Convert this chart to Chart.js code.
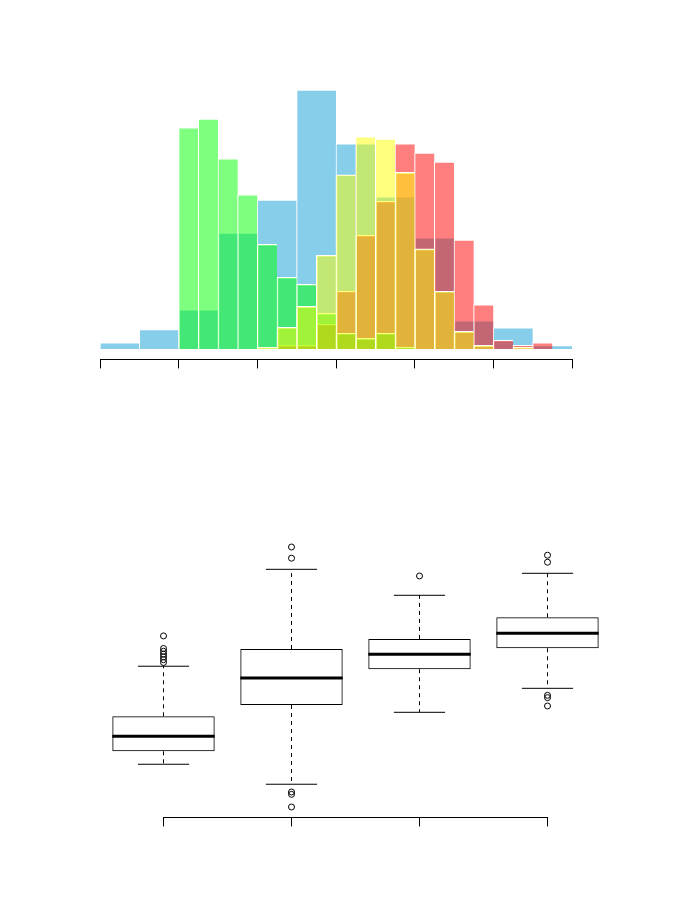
<!DOCTYPE html>
<html lang="en">
<head>
    <meta charset="UTF-8">
    <title>Histogrammes et boîtes à moustaches</title>
    <script src="https://cdn.jsdelivr.net/npm/chart.js"></script>
    <style>
        html, body {
            margin: 0;
            padding: 0;
            background-color: #ffffff;
        }
        .panel {
            position: absolute;
            left: 0;
            width: 673px;
            height: 458px;
        }
        #top { top: 0; }
        #bottom { top: 458px; }
    </style>
</head>
<body>
    <div class="panel" id="top"><canvas id="histChart" width="673" height="458"></canvas></div>
    <div class="panel" id="bottom"><canvas id="boxChart" width="673" height="458"></canvas></div>

    <script>
        // Bornes des classes (fines pour vert/jaune/rouge, larges pour bleu)
        const fineBreaks = [0, 1, 2, 3, 4, 5, 6, 7, 8, 9, 10, 11, 12, 13, 14, 15, 16, 17, 18, 19, 20, 21, 22, 23, 24];
        const coarseBreaks = [0, 2, 4, 6, 8, 10, 12, 14, 16, 18, 20, 22, 24];
        const histTicks = [0, 4, 8, 12, 16, 20, 24];

        // Hauteurs
        const blueHeights = [2.4, 7.5, 15.1, 44.8, 57.5, 100, 79.2, 58.8, 42.9, 10.9, 8.2, 1.3];
        const greenHeights = [0, 0, 0, 0, 85.4, 88.8, 73.4, 59.5, 40.4, 27.7, 25.0, 13.8,
                              6.1, 4.1, 6.1, 0.8, 0, 0, 0, 0, 0, 0, 0, 0];
        const yellowHeights = [0, 0, 0, 0, 0, 0, 0, 0, 0.7, 8.4, 16.5, 36.2,
                               67.3, 81.9, 81.1, 68.2, 38.7, 22.3, 6.8, 1.4, 0, 0.7, 0, 0];
        const redHeights = [0, 0, 0, 0, 0, 0, 0, 0, 0, 1.4, 1.4, 9.5,
                            22.3, 43.9, 57.0, 79.2, 75.7, 72.2, 42.1, 17.1, 3.4, 1.4, 2.4, 0];

        // Boîtes à moustaches (groupes : vert, bleu, jaune, rouge)
        const boxGroups = [1, 2, 3, 4];
        const whiskerLow = [4.15, 2.35, 8.83, 10.99];
        const boxQ1 = [5.32, 9.49, 12.71, 14.60];
        const boxMedian = [6.67, 11.92, 14.06, 15.95];
        const boxQ3 = [8.47, 14.53, 15.44, 17.39];
        const whiskerHigh = [12.98, 21.71, 19.37, 21.35];
        const outliers = [
            [15.71, 14.58, 14.33, 14.07, 13.82, 13.57, 13.32],
            [23.72, 22.71, 1.65, 1.44, 0.30],
            [21.11],
            [22.98, 22.35, 10.36, 10.15, 9.40]
        ];

        const boxWex = 0.8;
        const stapleHalf = boxWex / 4;

        function binData(breaks, heights) {
            return heights.map((h, i) => ({ x: (breaks[i] + breaks[i + 1]) / 2, y: h > 0 ? h : null }));
        }

        function histSet(label, breaks, heights, colour, order) {
            return {
                label: label,
                data: binData(breaks, heights),
                backgroundColor: colour,
                borderColor: '#ffffff',
                borderWidth: { top: 1, left: 1, right: 0, bottom: 0 },
                barThickness: 'flex',
                categoryPercentage: 1,
                barPercentage: 1,
                stack: 'hist',
                order: order
            };
        }

        const axisStyle = {
            grid: { display: true, drawOnChartArea: false, drawTicks: true, tickLength: 9, color: '#000000', lineWidth: 1, offset: false },
            border: { display: true, color: '#000000', width: 1 }
        };

        // Histogrammes superposés
        const hMax = Math.max(...blueHeights, ...greenHeights, ...yellowHeights, ...redHeights);
        const hPad = hMax * 0.04;

        new Chart(document.getElementById('histChart'), {
            type: 'bar',
            data: {
                datasets: [
                    histSet('jaune', fineBreaks, yellowHeights, 'rgba(255, 255, 0, 0.5)', 0),
                    histSet('vert', fineBreaks, greenHeights, 'rgba(0, 255, 0, 0.5)', 1),
                    histSet('rouge', fineBreaks, redHeights, 'rgba(255, 0, 0, 0.5)', 2),
                    histSet('bleu', coarseBreaks, blueHeights, '#87ceeb', 3)
                ]
            },
            options: {
                responsive: false,
                animation: false,
                layout: { padding: { left: 100, right: 101, top: 79.7, bottom: 89.6 } },
                plugins: { legend: { display: false }, tooltip: { enabled: false } },
                scales: {
                    x: Object.assign({
                        type: 'linear',
                        offset: false,
                        min: histTicks[0],
                        max: histTicks[histTicks.length - 1],
                        afterBuildTicks: (scale) => { scale.ticks = histTicks.map(v => ({ value: v })); },
                        ticks: { display: false }
                    }, axisStyle),
                    y: {
                        display: false,
                        stacked: false,
                        min: -hPad,
                        max: hMax + hPad
                    }
                }
            }
        });

        // Boîtes à moustaches
        const allValues = whiskerLow.concat(whiskerHigh, ...outliers);
        const bLo = Math.min(...allValues);
        const bHi = Math.max(...allValues);
        const bPad = (bHi - bLo) * 0.04;

        const medianData = boxGroups.flatMap((c, i) => [
            { x: c - boxWex / 2, y: boxMedian[i] },
            { x: c + boxWex / 2, y: boxMedian[i] },
            { x: c + boxWex / 2, y: null }
        ]);
        const whiskerData = boxGroups.flatMap((c, i) => [
            { x: c, y: boxQ3[i] }, { x: c, y: whiskerHigh[i] }, { x: c, y: null },
            { x: c, y: boxQ1[i] }, { x: c, y: whiskerLow[i] }, { x: c, y: null }
        ]);
        const stapleData = boxGroups.flatMap((c, i) => [
            { x: c - stapleHalf, y: whiskerHigh[i] }, { x: c + stapleHalf, y: whiskerHigh[i] }, { x: c + stapleHalf, y: null },
            { x: c - stapleHalf, y: whiskerLow[i] }, { x: c + stapleHalf, y: whiskerLow[i] }, { x: c + stapleHalf, y: null }
        ]);
        const outlierData = boxGroups.flatMap((c, i) => outliers[i].map(v => ({ x: c, y: v })));

        const lineBase = {
            type: 'line',
            borderColor: '#000000',
            pointRadius: 0,
            pointHoverRadius: 0,
            fill: false,
            clip: false,
            borderCapStyle: 'butt'
        };

        new Chart(document.getElementById('boxChart'), {
            type: 'bar',
            data: {
                datasets: [
                    Object.assign({}, lineBase, { label: 'médiane', data: medianData, borderWidth: 3 }),
                    Object.assign({}, lineBase, { label: 'moustaches', data: whiskerData, borderWidth: 1, borderDash: [4, 4] }),
                    Object.assign({}, lineBase, { label: 'extrémités', data: stapleData, borderWidth: 1 }),
                    {
                        type: 'scatter',
                        label: 'valeurs extrêmes',
                        data: outlierData,
                        pointStyle: 'circle',
                        pointRadius: 3,
                        pointHoverRadius: 3,
                        borderColor: '#000000',
                        backgroundColor: 'rgba(0, 0, 0, 0)',
                        borderWidth: 1,
                        clip: false
                    },
                    {
                        label: 'boîtes',
                        data: boxGroups.map((c, i) => ({ x: c, y: [boxQ1[i], boxQ3[i]] })),
                        backgroundColor: 'rgba(255, 255, 255, 0)',
                        borderColor: '#000000',
                        borderWidth: 1,
                        borderSkipped: false,
                        barPercentage: boxWex,
                        categoryPercentage: 1,
                        clip: false
                    }
                ]
            },
            options: {
                responsive: false,
                animation: false,
                layout: { padding: { left: 163.5, right: 125.5, top: 78.6, bottom: 89.6 } },
                plugins: { legend: { display: false }, tooltip: { enabled: false } },
                scales: {
                    x: Object.assign({
                        type: 'linear',
                        offset: false,
                        min: boxGroups[0],
                        max: boxGroups[boxGroups.length - 1],
                        afterBuildTicks: (scale) => { scale.ticks = boxGroups.map(v => ({ value: v })); },
                        ticks: { display: false }
                    }, axisStyle),
                    y: {
                        display: false,
                        min: bLo - bPad,
                        max: bHi + bPad
                    }
                }
            }
        });
    </script>
</body>
</html>
